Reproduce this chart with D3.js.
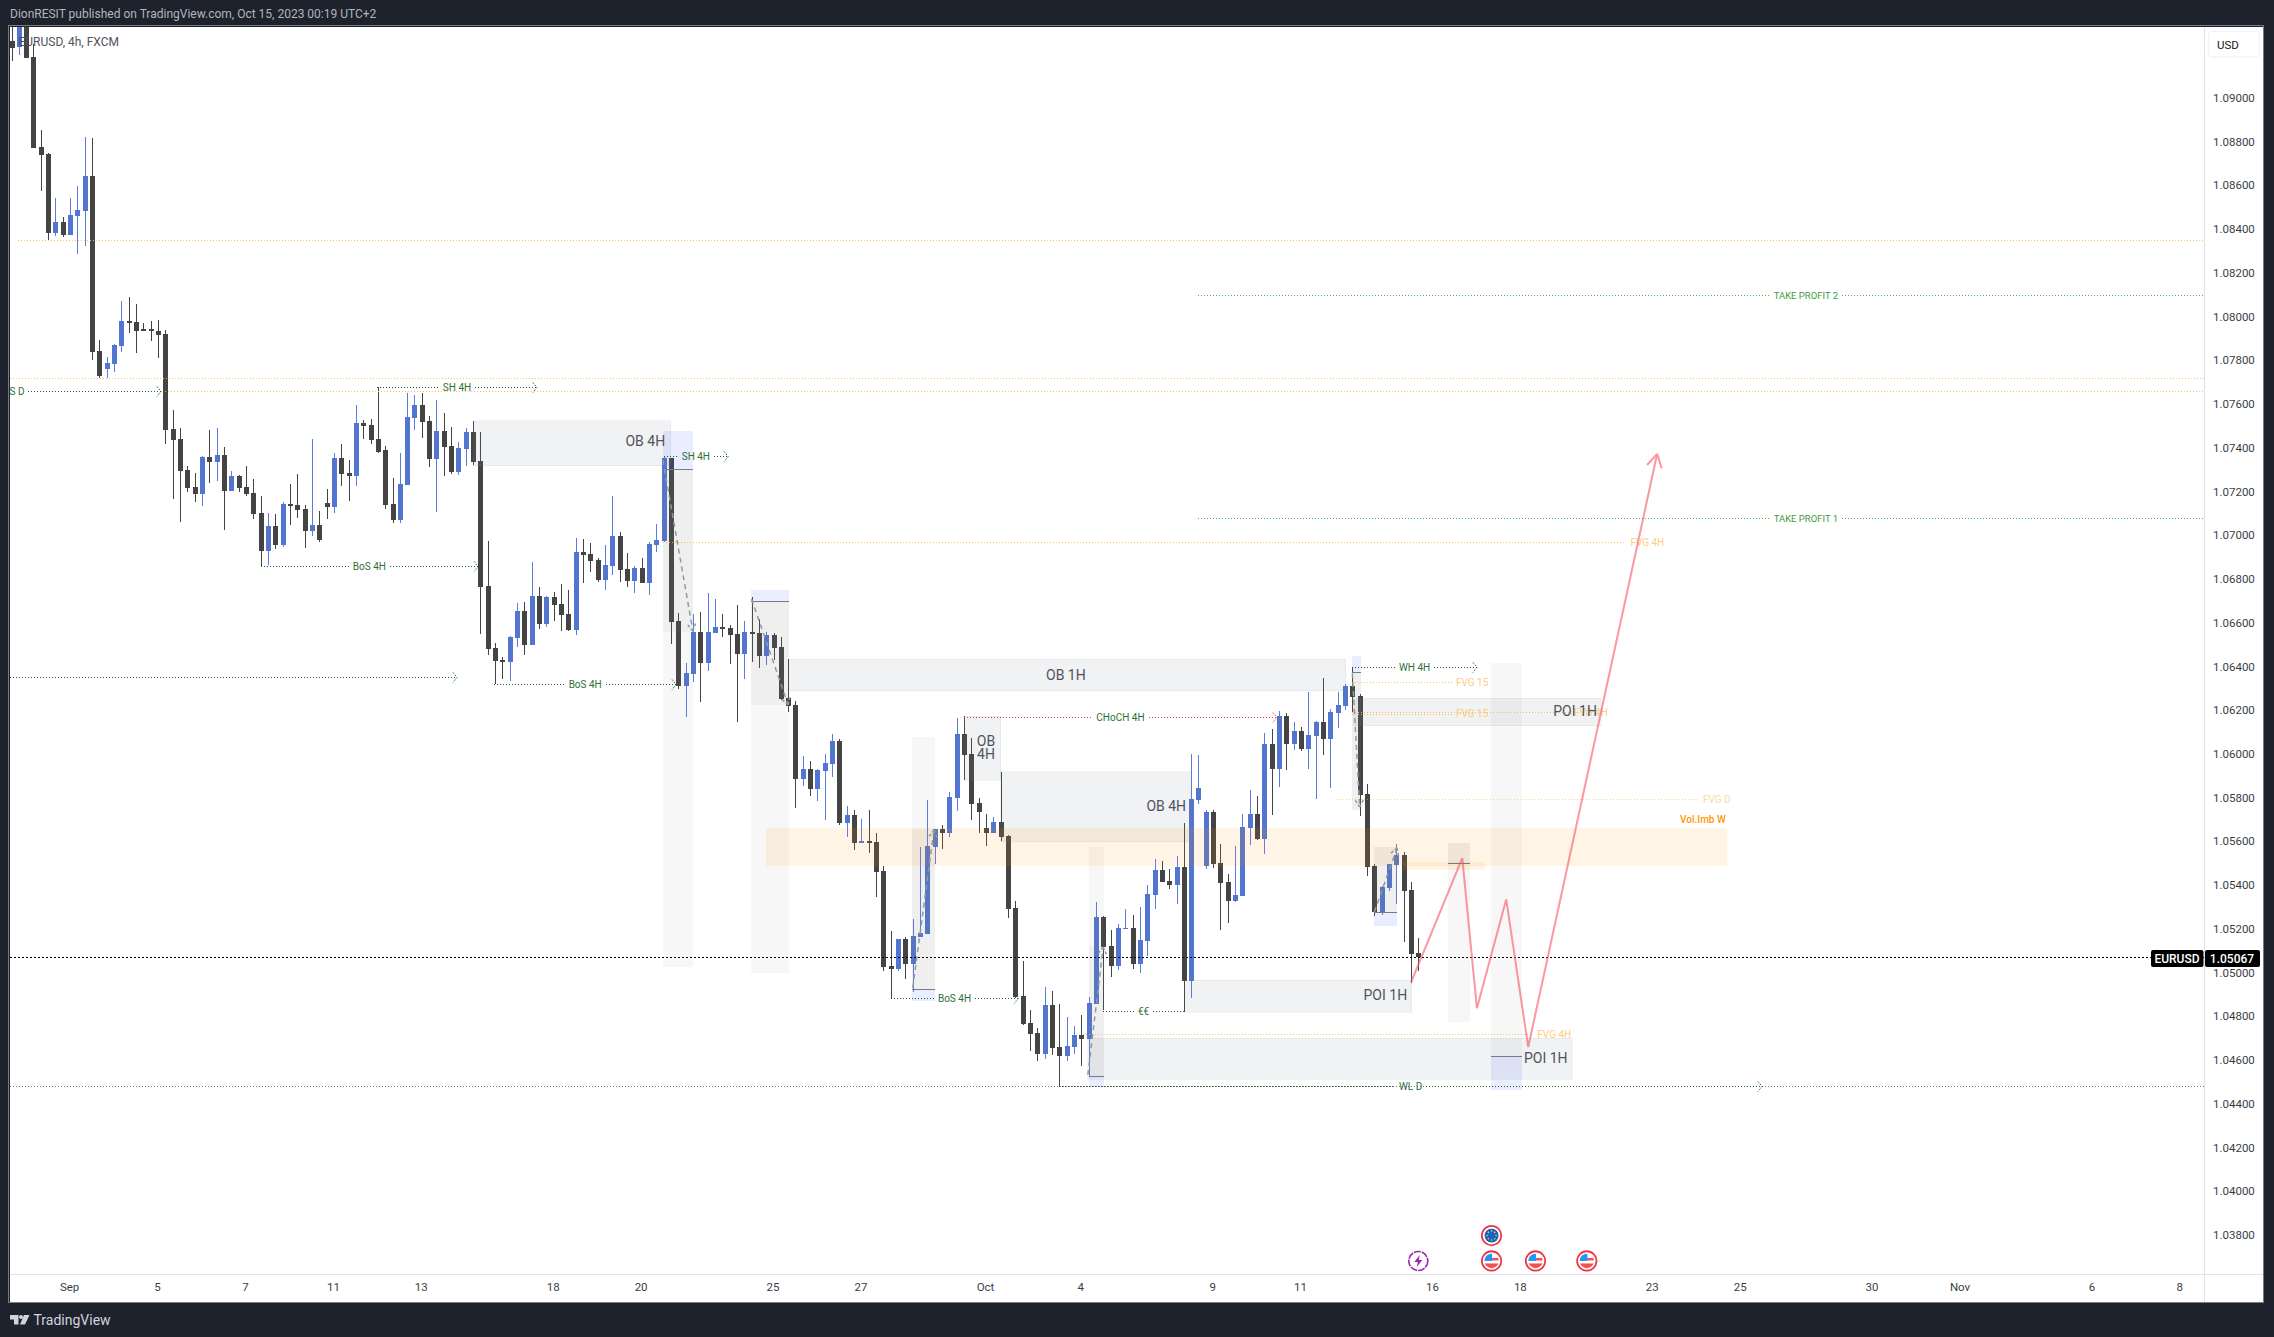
<!DOCTYPE html>
<html><head><meta charset="utf-8">
<script src="https://cdn.jsdelivr.net/npm/d3@7/dist/d3.min.js"></script>
<style>html,body{margin:0;padding:0;background:#1e222d;overflow:hidden}svg{display:block}text{font-family:Roboto,"Open Sans",sans-serif}</style>
</head><body><svg id="c" width="2274" height="1337"></svg>
<script>
const opens=[1.09259,1.09229,1.09376,1.09185,1.08772,1.08742,1.08380,1.08429,1.08373,1.08459,1.08483,1.08641,1.07841,1.07759,1.07783,1.07864,1.07978,1.07974,1.07939,1.07939,1.07932,1.07918,1.07484,1.07439,1.07297,1.07218,1.07188,1.07356,1.07334,1.07365,1.07202,1.07269,1.07218,1.07192,1.07099,1.06926,1.07040,1.06954,1.07141,1.07136,1.07118,1.07017,1.07045,1.07145,1.07127,1.07351,1.07283,1.07269,1.07512,1.07502,1.07439,1.07388,1.07141,1.07066,1.07229,1.07535,1.07594,1.07521,1.07346,1.07475,1.07405,1.07288,1.07393,1.07470,
1.07338,1.06766,1.06481,1.06428,1.06419,1.06528,1.06652,1.06496,1.06720,1.06592,1.06716,1.06684,1.06638,1.06565,1.06922,1.06912,1.06885,1.06794,1.06858,1.06995,1.06844,1.06789,1.06848,1.06780,1.06954,1.06972,1.07351,1.06606,1.06309,1.06364,1.06556,1.06414,1.06551,1.06579,1.06574,
1.06547,1.06455,1.06556,1.06551,1.06446,1.06542,1.06487,1.06254,1.06222,1.05884,1.05929,1.05838,1.05920,1.05952,1.06057,1.05683,1.05719,1.05591,1.05600,1.05596,1.05463,1.05029,1.05015,1.05152,1.05038,1.05161,1.05175,1.05573,1.05655,1.05637,1.05797,1.06089,1.05998,1.05774,1.05660,1.05637,1.05687,1.05623,1.05294,
1.04891,1.04768,1.04722,1.04626,1.04850,1.04658,1.04617,1.04658,1.04713,1.04695,1.04855,1.05253,1.05120,1.05029,1.05198,1.05202,1.05038,1.05143,1.05353,1.05467,1.05417,1.05399,1.05481,1.04960,1.05787,1.05486,1.05733,1.05499,1.05413,1.05326,1.05349,1.05659,1.05723,1.05609,1.06044,1.05929,1.06172,1.06044,1.06103,1.06021,1.06080,1.06144,1.06066,1.06185,1.06217,1.06309,1.06263,1.05815,1.05486,1.05275,1.05385,1.05490,1.05536,1.05376,1.05088];
const highs=[1.09341,1.09394,1.09411,1.09245,1.08851,1.08746,1.08541,1.08454,1.08541,1.08595,1.08819,1.08814,1.07890,1.07813,1.07873,1.08069,1.08088,1.08056,1.07969,1.07978,1.07983,1.07937,1.07572,1.07488,1.07314,1.07283,1.07360,1.07479,1.07488,1.07402,1.07290,1.07272,1.07314,1.07255,1.07178,1.07099,1.07096,1.07148,1.07232,1.07278,1.07136,1.07439,1.07110,1.07209,1.07374,1.07416,1.07342,1.07594,1.07524,1.07530,1.07678,1.07405,1.07260,1.07374,1.07649,1.07640,1.07649,1.07542,1.07617,1.07558,1.07493,1.07425,1.07488,1.07521,
1.07470,1.06970,1.06506,1.06440,1.06538,1.06688,1.06693,1.06876,1.06762,1.06720,1.06739,1.06775,1.06748,1.06984,1.06981,1.06963,1.06894,1.06954,1.07178,1.07013,1.06917,1.06858,1.06894,1.06967,1.07050,1.07361,1.07351,1.06643,1.06414,1.06638,1.06647,1.06734,1.06707,1.06638,1.06588,
1.06679,1.06606,1.06716,1.06614,1.06556,1.06551,1.06533,1.06432,1.06240,1.05989,1.05966,1.05929,1.05998,1.06089,1.06067,1.05760,1.05742,1.05701,1.05742,1.05635,1.05486,1.05189,1.05152,1.05161,1.05244,1.05573,1.05788,1.05655,1.05673,1.05824,1.06163,1.06170,1.06071,1.05797,1.05724,1.05710,1.05916,1.05628,1.05326,
1.05051,1.04827,1.04745,1.04933,1.04914,1.04855,1.04795,1.04754,1.04804,1.04887,1.05321,1.05257,1.05193,1.05221,1.05289,1.05262,1.05298,1.05399,1.05518,1.05509,1.05472,1.05531,1.05682,1.05998,1.05993,1.05742,1.05742,1.05586,1.05449,1.05577,1.05723,1.05833,1.05806,1.06094,1.06112,1.06194,1.06185,1.06144,1.06121,1.06281,1.06149,1.06345,1.06204,1.06281,1.06318,1.06394,1.06272,1.05861,1.05495,1.05394,1.05495,1.05586,1.05550,1.05413,1.05157];
const lows=[1.09169,1.09196,1.09180,1.08770,1.08574,1.08349,1.08366,1.08363,1.08373,1.08286,1.08322,1.07799,1.07717,1.07717,1.07745,1.07836,1.07923,1.07831,1.07930,1.07888,1.07810,1.07416,1.07164,1.07059,1.07194,1.07150,1.07132,1.07237,1.07246,1.07022,1.07201,1.07194,1.07178,1.07073,1.06854,1.06861,1.06936,1.06942,1.07045,1.07075,1.06940,1.06996,1.06968,1.07073,1.07101,1.07223,1.07155,1.07223,1.07439,1.07416,1.07374,1.07118,1.07055,1.07055,1.07229,1.07479,1.07442,1.07311,1.07104,1.07269,1.07278,1.07274,1.07314,1.07320,
1.06547,1.06451,1.06317,1.06341,1.06332,1.06487,1.06451,1.06496,1.06570,1.06579,1.06606,1.06560,1.06560,1.06542,1.06780,1.06830,1.06784,1.06748,1.06816,1.06784,1.06762,1.06734,1.06780,1.06725,1.06922,1.06967,1.06501,1.06295,1.06167,1.06327,1.06236,1.06378,1.06551,1.06533,1.06410,
1.06144,1.06341,1.06419,1.06391,1.06405,1.06428,1.06245,1.06190,1.05751,1.05852,1.05806,1.05783,1.05696,1.05893,1.05673,1.05619,1.05559,1.05591,1.05545,1.05344,1.05006,1.04881,1.05006,1.04969,1.04910,1.05161,1.05175,1.05495,1.05564,1.05619,1.05737,1.05878,1.05696,1.05637,1.05577,1.05637,1.05600,1.05248,1.04882,
1.04759,1.04640,1.04594,1.04603,1.04622,1.04478,1.04594,1.04626,1.04571,1.04523,1.04855,1.04827,1.04978,1.05010,1.05198,1.05015,1.04997,1.05074,1.05289,1.05413,1.05381,1.05312,1.04818,1.04882,1.05769,1.05472,1.05477,1.05193,1.05225,1.05321,1.05349,1.05582,1.05605,1.05541,1.05719,1.05847,1.05925,1.06016,1.06012,1.05929,1.05792,1.05993,1.05842,1.06117,1.06199,1.06190,1.05714,1.05440,1.05257,1.05262,1.05371,1.05312,1.05138,1.04951,1.05006];
const closes=[1.09227,1.09358,1.09180,1.08770,1.08737,1.08382,1.08431,1.08371,1.08462,1.08485,1.08641,1.07838,1.07726,1.07785,1.07867,1.07978,1.07969,1.07932,1.07932,1.07930,1.07915,1.07481,1.07435,1.07292,1.07215,1.07187,1.07356,1.07334,1.07365,1.07201,1.07269,1.07215,1.07187,1.07097,1.06926,1.07040,1.06954,1.07141,1.07132,1.07113,1.07017,1.07045,1.06977,1.07127,1.07351,1.07278,1.07269,1.07512,1.07498,1.07433,1.07381,1.07136,1.07066,1.07232,1.07538,1.07594,1.07516,1.07346,1.07475,1.07402,1.07288,1.07397,1.07470,1.07334,
1.06763,1.06478,1.06423,1.06419,1.06533,1.06652,1.06496,1.06720,1.06592,1.06716,1.06679,1.06634,1.06565,1.06922,1.06908,1.06880,1.06794,1.06862,1.06995,1.06839,1.06789,1.06848,1.06780,1.06958,1.06976,1.07351,1.06602,1.06309,1.06368,1.06556,1.06414,1.06556,1.06579,1.06570,1.06542,
1.06455,1.06556,1.06547,1.06446,1.06542,1.06483,1.06250,1.06217,1.05884,1.05929,1.05838,1.05925,1.05957,1.06057,1.05683,1.05719,1.05591,1.05599,1.05591,1.05459,1.05024,1.05015,1.05152,1.05038,1.05166,1.05180,1.05577,1.05655,1.05637,1.05801,1.06089,1.05993,1.05769,1.05733,1.05637,1.05687,1.05619,1.05289,1.04887,
1.04763,1.04718,1.04626,1.04850,1.04654,1.04617,1.04663,1.04713,1.04695,1.04859,1.05253,1.05115,1.05029,1.05202,1.05202,1.05038,1.05147,1.05358,1.05467,1.05413,1.05399,1.05481,1.04960,1.05792,1.05842,1.05733,1.05495,1.05408,1.05326,1.05353,1.05664,1.05723,1.05609,1.06044,1.05929,1.06172,1.06044,1.06103,1.06021,1.06085,1.06144,1.06066,1.06190,1.06222,1.06309,1.06258,1.05810,1.05481,1.05275,1.05390,1.05495,1.05536,1.05371,1.05083,1.05067];

const priceTicks=[1.09,1.088,1.086,1.084,1.082,1.08,1.078,1.076,1.074,1.072,1.07,1.068,1.066,1.064,1.062,1.06,1.058,1.056,1.054,1.052,1.05,1.048,1.046,1.044,1.042,1.04,1.038];
const timeTickIndex=[8,20,32,44,56,74,86,104,116,133,146,164,176,194,206,224,236,254,266,284,296];
const timeTickLabels=["Sep","5","7","11","13","18","20","25","27","Oct","4","9","11","16","18","23","25","30","Nov","6","8"];

const grayBoxes=[[63,90,1.07521,1.07316],[106.1,182.1,1.06432,1.06287],[130,135,1.0617,1.05878],[135,161.1,1.05916,1.05597],[160.1,191.1,1.04963,1.04817],[146.9,213,1.04698,1.0451],[183.1,217,1.06253,1.06127]];
const boxLabels=[["OB 4H",86.5,1.07428],["OB 1H",143.9,1.0636],["OB",133,1.06058],["4H",133,1.05995],["OB 4H",157.6,1.05757],["POI 1H",187.5,1.04895],["POI 1H",209.4,1.04608],["POI 1H",213.4,1.06192]];
const blueBoxes=[[88.9,93,1.07475,1.073],[100.9,106.1,1.06748,1.06696],[122.9,126,1.04922,1.0487],[147,149.1,1.04524,1.04476],[183,184.2,1.06446,1.06371],[186,189.1,1.05274,1.05211],[201.9,206.1,1.04615,1.04463]];
const darkBoxes=[[88.9,93,1.073,1.06556],[100.9,106.1,1.06696,1.06223],[122.9,126,1.05655,1.04922],[147,149.1,1.0512,1.04524],[183,184.2,1.06371,1.05742],[186,189.1,1.05573,1.05274],[196,199.1,1.05591,1.05498]];
const lightBoxes=[[88.9,93,1.06556,1.05024],[100.9,106.1,1.06223,1.04998],[122.9,126,1.06076,1.05655],[147,149.1,1.05573,1.0512],[196,199.1,1.05498,1.04774],[201.9,206.1,1.06413,1.04615]];
const stopLines=[[88.9,93,1.073],[100.9,106.1,1.06696],[122.9,126,1.04922],[147,149.1,1.04524],[183,184.2,1.06371],[186,189.1,1.05274],[196,199.1,1.05498],[201.9,206.1,1.04615]];
const orangeBoxes=[[103,234.1,1.05659,1.05486],[189.9,201.1,1.05504,1.05467]];
const fvgLines=[[0.9,299.2,1.08347,""],[-0.2,299.2,1.07715,""],[20.9,299.2,1.07658,""],[88.9,220.4,1.06966,"FVG 4H"],[183,196.6,1.06326,"FVG 15"],[183,196.6,1.06181,"FVG 15"],[180.9,230.3,1.05791,"FVG D"],[146.2,207.7,1.04716,"FVG 4H"],[183,212.7,1.06189,"FVG 4H"]];
const structureLines=[[2.3,20.4,1.07658,""],[49.9,71.7,1.07678,"SH 4H"],[34,63.7,1.06856,"BoS 4H"],[-0.2,60.8,1.06349,""],[65.9,90.7,1.06317,"BoS 4H"],[89,97.8,1.07362,"SH 4H"],[120,137.4,1.04881,"BoS 4H"],[149,160,1.04824,"€€"],[183,200,1.06394,"WH 4H"],[143,238.9,1.04478,"WL D"]];
const chochLine=[130,172.7,1.06167,"CHoCH 4H"];
const takeProfitLines=[[161.9,299.2,1.08095,"TAKE PROFIT 2",244.9],[161.9,299.2,1.07077,"TAKE PROFIT 1",244.9]];
const lastPrice=1.05067, liquidityPrice=1.04478;
const dashedArrows=[[88.9,1.07342,93,1.0656],[101,1.06707,106,1.06222],[123,1.04928,125.9,1.0565],[146.9,1.0453,149,1.05115],[183,1.06368,184,1.05755],[186,1.05275,189.1,1.05568]];
const projectionIndex=[191,198,200,204,207,224.6];
const projectionPrice=[1.04952,1.05521,1.04835,1.05333,1.04657,1.0737];
const eventRows=[["eu",202,1.03795],["us",202,1.03679],["us",208,1.03679],["us",215,1.03679],["bolt",192,1.03679]];

const svg=d3.select("#c");
const W=2274,H=1337,L=10,T=27,R=2204,B=1274,E=2263,F=1302;
const x=d3.scaleLinear().domain([0,192]).range([11.5,1418.3]);
const y=d3.scaleLinear().domain([1.09,1.038]).range([97.5,1234.5]);
const DARK="#444444",BLUE="#5275cf",GREEN="#2e6f38";

svg.append("rect").attr("width",W).attr("height",H).attr("fill","#1e222d");
svg.append("rect").attr("x",L).attr("y",T).attr("width",E-L).attr("height",F-T).attr("fill","#fff");
svg.append("defs").append("clipPath").attr("id","pl").append("rect").attr("x",L).attr("y",T).attr("width",R-L).attr("height",B-T);
const plot=svg.append("g").attr("clip-path","url(#pl)");

const idx=d3.range(opens.length);
const cg=plot.append("g").attr("shape-rendering","crispEdges");
cg.selectAll("rect.w").data(idx).join("rect").attr("class","w")
  .attr("x",i=>Math.round(x(i))).attr("width",1)
  .attr("y",i=>y(highs[i])).attr("height",i=>Math.max(1,y(lows[i])-y(highs[i])))
  .attr("fill",i=>closes[i]>=opens[i]?"#5a7ce0":DARK);
cg.selectAll("rect.b").data(idx).join("rect").attr("class","b")
  .attr("x",i=>Math.round(x(i))-2).attr("width",5)
  .attr("y",i=>y(Math.max(opens[i],closes[i]))).attr("height",i=>Math.max(1.5,Math.abs(y(opens[i])-y(closes[i]))))
  .attr("fill",i=>closes[i]>=opens[i]?BLUE:DARK);

function boxes(data,fill,stroke){
  plot.append("g").attr("shape-rendering","crispEdges").selectAll("rect").data(data).join("rect")
   .attr("x",d=>x(d[0])).attr("width",d=>x(d[1])-x(d[0]))
   .attr("y",d=>y(d[2])).attr("height",d=>y(d[3])-y(d[2]))
   .attr("fill",fill).attr("stroke",stroke||"none");
}
boxes(lightBoxes,"rgba(120,123,134,0.06)");
boxes(darkBoxes,"rgba(120,123,134,0.12)");
boxes(blueBoxes,"rgba(41,98,255,0.11)");
boxes(grayBoxes,"rgba(120,123,134,0.1)","rgba(120,123,134,0.08)");
boxes(orangeBoxes,"rgba(255,152,0,0.1)");
plot.append("g").attr("shape-rendering","crispEdges").selectAll("line").data(stopLines).join("line")
  .attr("x1",d=>x(d[0])).attr("x2",d=>x(d[1])).attr("y1",d=>y(d[2])).attr("y2",d=>y(d[2])).attr("stroke","#787b86");

function seg(g,x1,x2,yy,c,dash,w,op){
  g.append("line").attr("x1",Math.round(x1)).attr("x2",Math.round(x2)).attr("y1",Math.round(yy)+.5).attr("y2",Math.round(yy)+.5)
   .attr("stroke",c).attr("stroke-dasharray",dash||"1 2").attr("stroke-width",w||1).attr("opacity",op==null?1:op);
}
function chevron(g,xx,yy,c){
  const r=Math.round(yy)+.5;
  g.append("path").attr("d",`M${xx-4} ${r-5}L${xx} ${r}L${xx-4} ${r+5}`).attr("fill","none").attr("stroke",c).attr("stroke-dasharray","1.5 1.5");
}
const lg=plot.append("g");
seg(lg,L,R,y(liquidityPrice),"#787b86","1 2");
seg(lg,L,R,y(lastPrice),"#000","2 2");

fvgLines.forEach(d=>{
  const light=d[3]==="FVG D";
  seg(lg,x(d[0]),x(d[1]),y(d[2]),"#ffb74d","1 2",1,light?.6:.9);
  if(d[3]) lg.append("text").attr("x",x(d[1])+4).attr("y",y(d[2])+3.5).attr("font-size",10).attr("fill",light?"#ffd8a0":"#ffcb80").text(d[3]);
});
function labelled(d,c,tc,cx,size){
  const mx=x(cx==null?(d[0]+d[1])/2:cx), yy=y(d[2]);
  if(d[3]){
    const t=lg.append("text").attr("x",mx).attr("y",yy+4).attr("text-anchor","middle").attr("font-size",size||10).attr("fill",tc).text(d[3]);
    const w=t.node().getBBox().width/2+4;
    seg(lg,x(d[0]),mx-w,yy,c); seg(lg,mx+w,x(d[1]),yy,c);
  } else seg(lg,x(d[0]),x(d[1]),yy,c);
}
structureLines.forEach(d=>{labelled(d,"#1b5e20",GREEN); if(d[3]!=="€€") chevron(lg,x(d[1]),y(d[2]),"#1b5e20");});
labelled(chochLine,"#f23645",GREEN); chevron(lg,x(chochLine[1]),y(chochLine[2]),"#f23645");
takeProfitLines.forEach(d=>labelled(d,"#4caf50","#3f9a47",d[4],9.5));
lg.append("text").attr("x",x(0.75)).attr("y",y(1.07658)+4).attr("text-anchor","middle").attr("font-size",10).attr("fill",GREEN).text("S D");
lg.append("text").attr("x",x(234.1)-1).attr("y",y(1.05659)-5).attr("text-anchor","end").attr("font-size",10).attr("font-weight",500).attr("fill","#ff9800").text("Vol.Imb W");

plot.append("g").selectAll("text").data(boxLabels).join("text")
  .attr("x",d=>x(d[1])).attr("y",d=>y(d[2])).attr("dy","0.35em").attr("text-anchor","middle")
  .attr("font-size",14).attr("fill","#50535e").text(d=>d[0]);

const ag=plot.append("g").attr("fill","none").attr("stroke","#9598a1").attr("stroke-width",1.5);
function head(g,xt,yt,ang,len){
  [2.62,-2.62].forEach(o=>g.append("line").attr("x1",xt).attr("y1",yt)
    .attr("x2",xt+len*Math.cos(ang+o)).attr("y2",yt+len*Math.sin(ang+o)));
}
dashedArrows.forEach(d=>{
  ag.append("line").attr("x1",x(d[0])).attr("y1",y(d[1])).attr("x2",x(d[2])).attr("y2",y(d[3])).attr("stroke-dasharray","5 4");
  const a=Math.atan2(y(d[3])-y(d[1]),x(d[2])-x(d[0]));
  const h=ag.append("g").attr("stroke-dasharray","3 2"); head(h,x(d[2]),y(d[3]),a,10);
});
const rg=plot.append("g").attr("fill","none").attr("stroke","#f7525f").attr("stroke-width",2).attr("opacity",.6);
rg.append("path").attr("d",d3.line().x(i=>x(projectionIndex[i])).y(i=>y(projectionPrice[i]))(d3.range(projectionIndex.length)));
{const n=projectionIndex.length-1;const a=Math.atan2(y(projectionPrice[n])-y(projectionPrice[n-1]),x(projectionIndex[n])-x(projectionIndex[n-1]));head(rg,x(projectionIndex[n]),y(projectionPrice[n]),a,15);}

const eg=plot.append("g");
eventRows.forEach(([k,i,p],n)=>{
  const cx=x(i),cy=y(p),g=eg.append("g").attr("transform",`translate(${cx},${cy})`);
  if(k==="bolt"){
    g.append("circle").attr("r",9.5).attr("fill","#fff").attr("stroke","#9c27b0").attr("stroke-width",1.6).attr("stroke-dasharray","7 1");
    g.append("path").attr("d","M1.5 -6L-4 1H-0.5L-1.5 6L4 -1H0.5Z").attr("fill","#9c27b0");
    return;
  }
  g.append("circle").attr("r",9.7).attr("fill","#fff").attr("stroke","#f23645").attr("stroke-width",1.8);
  const id="ev"+n;
  g.append("clipPath").attr("id",id).append("circle").attr("r",7.2);
  const c=g.append("g").attr("clip-path",`url(#${id})`);
  if(k==="eu"){
    c.append("circle").attr("r",7.2).attr("fill","#1565c0");
    d3.range(8).forEach(j=>c.append("circle").attr("r",.8).attr("fill","#f9c834").attr("cx",4.5*Math.cos(j*Math.PI/4)).attr("cy",4.5*Math.sin(j*Math.PI/4)));
  } else {
    c.append("rect").attr("x",-8).attr("y",-8).attr("width",16).attr("height",16).attr("fill","#fff");
    c.append("rect").attr("x",0).attr("y",-3).attr("width",8).attr("height",2.5).attr("fill","#ef5350");
    c.append("rect").attr("x",-8).attr("y",2.5).attr("width",16).attr("height",6).attr("fill","#ef5350");
    c.append("rect").attr("x",-8).attr("y",-8).attr("width",8.5).attr("height",8).attr("fill","#2196f3");
  }
});

const ga=svg.append("g").attr("shape-rendering","crispEdges");
ga.append("rect").attr("x",R).attr("y",T).attr("width",1).attr("height",F-T).attr("fill","#e0e3eb");
ga.append("rect").attr("x",L).attr("y",B).attr("width",E-L).attr("height",1).attr("fill","#e0e3eb");
ga.append("rect").attr("x",L-1.5).attr("y",T-1.5).attr("width",E-L+2).attr("height",F-T+2).attr("fill","none").attr("stroke","#787b86");
const py=svg.append("g").attr("transform",`translate(${2213},0)`).call(d3.axisRight(y).tickValues(priceTicks).tickFormat(d3.format(".5f")).tickSize(0).tickPadding(0));
py.select(".domain").remove();
py.selectAll("text").attr("font-size",11.5).attr("font-family","Roboto").attr("fill","#131722").attr("opacity",.85).attr("dy","0.35em");
const px=svg.append("g").attr("transform",`translate(-1,${1283})`).call(d3.axisBottom(x).tickValues(timeTickIndex).tickFormat((d,i)=>timeTickLabels[i]).tickSize(0).tickPadding(0));
px.select(".domain").remove();
px.selectAll("text").attr("font-size",11.5).attr("font-family","Roboto").attr("fill","#131722").attr("opacity",.85);

svg.append("rect").attr("x",2208.5).attr("y",31.5).attr("width",51).attr("height",25.5).attr("rx",4).attr("fill","#fff").attr("stroke","#f0f3fa").attr("stroke-width",1.5);
svg.append("text").attr("x",2217).attr("y",49).attr("font-size",11.5).attr("fill","#131722").text("USD");

svg.append("rect").attr("x",2151).attr("y",950).attr("width",52.5).attr("height",17).attr("rx",2).attr("fill","#000");
svg.append("text").attr("x",2177).attr("y",962.5).attr("text-anchor","middle").attr("font-size",12).attr("font-weight",500).attr("fill","#fff").text("EURUSD");
svg.append("rect").attr("x",2205).attr("y",950).attr("width",55).attr("height",17).attr("rx",2).attr("fill","#000");
svg.append("text").attr("x",2232).attr("y",962.5).attr("text-anchor","middle").attr("font-size",12).attr("font-weight",500).attr("fill","#fff").text(d3.format(".5f")(lastPrice));

svg.append("text").attr("x",10).attr("y",18).attr("font-size",12).attr("fill","#b2b5be").text("DionRESIT published on TradingView.com, Oct 15, 2023 00:19 UTC+2");
svg.append("text").attr("x",18.5).attr("y",45.5).attr("font-size",12).attr("fill","#50535e").text("EURUSD, 4h, FXCM");
svg.append("path").attr("d","M10 1315H18.5V1324.5H14V1319.5H10Z M24 1315H29.5L25 1324.5H20Z").attr("fill","#d1d4dc");
svg.append("circle").attr("cx",21).attr("cy",1317).attr("r",2).attr("fill","#d1d4dc");
svg.append("text").attr("x",33.5).attr("y",1325).attr("font-size",14).attr("fill","#d1d4dc").text("TradingView");
</script></body></html>
